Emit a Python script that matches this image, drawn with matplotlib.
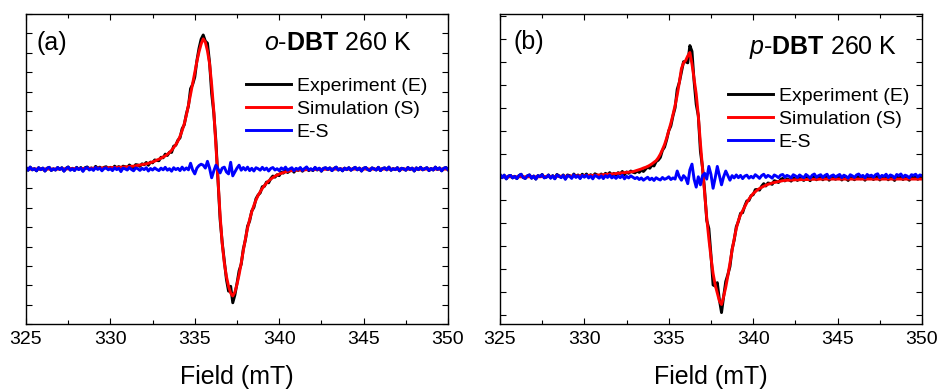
import numpy as np
import matplotlib
matplotlib.use("Agg")
from matplotlib import pyplot as plt
from matplotlib.ticker import MultipleLocator

plt.rcParams['font.family'] = ['Liberation Sans', 'DejaVu Sans']
plt.rcParams['mathtext.fontset'] = 'custom'
plt.rcParams['mathtext.rm'] = 'Liberation Sans'
plt.rcParams['mathtext.it'] = 'Liberation Sans:italic'
plt.rcParams['mathtext.bf'] = 'Liberation Sans:bold'

# field axis, 0.125 mT steps from 325 to 350 mT
field_start, field_step, n_pts = 325.0, 0.125, 201

# simulated derivative spectra (arb. units), one row per mT
sim_a = [
    0.00, 0.00, 0.00, 0.00, 0.00, 0.00, 0.00, 0.00,
    0.00, 0.00, 0.00, 0.00, 0.00, 0.00, 0.00, 0.00,
    0.01, 0.01, 0.01, 0.01, 0.01, 0.02, 0.02, 0.02,
    0.02, 0.02, 0.03, 0.03, 0.03, 0.03, 0.04, 0.04,
    0.04, 0.05, 0.05, 0.05, 0.06, 0.06, 0.06, 0.07,
    0.07, 0.08, 0.08, 0.09, 0.09, 0.10, 0.10, 0.11,
    0.12, 0.13, 0.14, 0.15, 0.17, 0.19, 0.21, 0.23,
    0.25, 0.27, 0.30, 0.33, 0.37, 0.41, 0.46, 0.51,
    0.56, 0.62, 0.68, 0.76, 0.85, 0.97, 1.11, 1.26,
    1.45, 1.69, 1.98, 2.33, 2.78, 3.30, 3.85, 4.42,
    5.00, 5.55, 6.05, 6.45, 6.72, 6.55, 6.10, 5.45,
    4.35, 3.00, 1.25, -0.55, -2.40, -3.85, -4.85, -5.55,
    -6.05, -6.40, -6.55, -6.35, -5.95, -5.45, -4.85, -4.20,
    -3.60, -3.05, -2.60, -2.20, -1.88, -1.60, -1.36, -1.17,
    -1.00, -0.85, -0.72, -0.61, -0.52, -0.44, -0.37, -0.31,
    -0.26, -0.22, -0.18, -0.15, -0.12, -0.10, -0.08, -0.07,
    -0.06, -0.05, -0.05, -0.04, -0.04, -0.03, -0.03, -0.03,
    -0.02, -0.02, -0.02, -0.02, -0.01, -0.01, -0.01, -0.01,
    0.00, 0.00, 0.00, 0.00, 0.00, 0.00, 0.00, 0.00,
    0.00, 0.00, 0.00, 0.00, 0.00, 0.00, 0.00, 0.00,
    0.00, 0.00, 0.00, 0.00, 0.00, 0.00, 0.00, 0.00,
    0.00, 0.00, 0.00, 0.00, 0.00, 0.00, 0.00, 0.00,
    0.00, 0.00, 0.00, 0.00, 0.00, 0.00, 0.00, 0.00,
    0.00, 0.00, 0.00, 0.00, 0.00, 0.00, 0.00, 0.00,
    0.00, 0.00, 0.00, 0.00, 0.00, 0.00, 0.00, 0.00,
    0.00,
]

# residual E-S
res_a = [
    0.08, -0.06, 0.10, -0.04, 0.02, -0.09, 0.07, -0.03,
    0.05, -0.10, 0.04, 0.09, -0.07, 0.01, -0.05, 0.08,
    -0.02, 0.06, -0.11, 0.03, 0.10, -0.06, 0.02, -0.08,
    0.07, -0.03, 0.05, -0.12, 0.04, 0.08, -0.05, 0.02,
    -0.07, 0.09, -0.02, 0.05, -0.09, 0.03, 0.06, -0.04,
    0.02, -0.08, 0.07, -0.03, 0.04, -0.13, 0.05, 0.01,
    -0.05, 0.08, -0.02, -0.09, 0.06, 0.02, -0.07, 0.04,
    -0.03, 0.07, -0.10, 0.03, -0.05, 0.06, -0.02, -0.08,
    0.05, -0.04, 0.09, -0.06, 0.02, -0.11, 0.07, -0.03,
    0.04, -0.08, 0.10, -0.05, 0.06, -0.04, 0.30, -0.05,
    -0.25, 0.05, 0.18, 0.25, 0.20, 0.05, 0.40, 0.05,
    -0.45, -0.10, 0.20, 0.02, -0.20, 0.05, 0.10, -0.15,
    -0.25, 0.35, -0.35, -0.15, 0.05, 0.20, -0.06, 0.08,
    -0.05, 0.10, -0.08, 0.04, -0.10, 0.07, 0.02, -0.06,
    0.09, -0.04, 0.05, -0.10, 0.03, 0.08, -0.05, 0.02,
    -0.08, 0.06, -0.03, 0.10, -0.06, 0.01, 0.07, -0.09,
    0.04, -0.02, 0.08, -0.07, 0.03, 0.11, -0.05, 0.02,
    -0.06, 0.09, -0.03, 0.05, -0.10, 0.04, 0.07, -0.02,
    0.06, -0.08, 0.03, 0.10, -0.05, 0.02, -0.09, 0.05,
    -0.03, 0.07, -0.06, 0.02, 0.09, -0.04, 0.05, -0.10,
    0.04, 0.08, -0.03, -0.07, 0.06, 0.01, -0.05, 0.09,
    -0.08, 0.03, 0.06, -0.04, 0.10, -0.06, 0.02, -0.03,
    0.07, -0.09, 0.04, 0.01, -0.06, 0.08, -0.02, 0.05,
    -0.10, 0.06, -0.03, 0.09, -0.04, 0.02, 0.07, -0.08,
    0.03, -0.05, 0.10, -0.02, 0.06, -0.09, 0.04, 0.08,
    -0.03,
]

sim_b = [
    0.00, 0.00, 0.00, 0.00, 0.00, 0.00, 0.00, 0.00,
    0.00, 0.00, 0.00, 0.00, 0.00, 0.00, 0.00, 0.00,
    0.00, 0.00, 0.00, 0.00, 0.01, 0.01, 0.01, 0.01,
    0.01, 0.01, 0.01, 0.02, 0.02, 0.02, 0.02, 0.02,
    0.03, 0.03, 0.03, 0.03, 0.04, 0.04, 0.04, 0.05,
    0.05, 0.05, 0.06, 0.06, 0.06, 0.07, 0.07, 0.08,
    0.08, 0.09, 0.10, 0.11, 0.11, 0.12, 0.13, 0.14,
    0.15, 0.16, 0.17, 0.18, 0.19, 0.20, 0.21, 0.22,
    0.25, 0.28, 0.31, 0.34, 0.38, 0.41, 0.45, 0.50,
    0.56, 0.63, 0.70, 0.82, 0.98, 1.18, 1.40, 1.68,
    2.00, 2.33, 2.70, 3.10, 3.55, 4.10, 4.70, 4.95,
    5.05, 5.25, 5.40, 4.90, 4.25, 3.60, 2.65, 1.45,
    0.35, -0.75, -1.80, -2.70, -3.50, -4.20, -4.70, -5.05,
    -5.40, -5.55, -5.20, -4.80, -4.30, -3.75, -3.20, -2.70,
    -2.25, -1.90, -1.65, -1.48, -1.30, -1.12, -0.97, -0.84,
    -0.73, -0.65, -0.57, -0.51, -0.46, -0.41, -0.37, -0.33,
    -0.30, -0.27, -0.25, -0.23, -0.21, -0.19, -0.17, -0.16,
    -0.15, -0.15, -0.14, -0.14, -0.13, -0.13, -0.13, -0.12,
    -0.12, -0.12, -0.12, -0.11, -0.11, -0.11, -0.11, -0.11,
    -0.10, -0.10, -0.10, -0.10, -0.10, -0.10, -0.10, -0.10,
    -0.10, -0.10, -0.10, -0.10, -0.10, -0.10, -0.10, -0.10,
    -0.10, -0.10, -0.10, -0.10, -0.10, -0.10, -0.10, -0.10,
    -0.10, -0.10, -0.10, -0.10, -0.10, -0.10, -0.10, -0.10,
    -0.10, -0.10, -0.10, -0.10, -0.10, -0.10, -0.10, -0.10,
    -0.10, -0.10, -0.10, -0.10, -0.10, -0.10, -0.10, -0.10,
    -0.10,
]

res_b = [
    0.10, -0.04, 0.07, -0.09, 0.03, 0.06, -0.05, 0.02,
    -0.08, 0.05, 0.11, -0.03, -0.07, 0.04, 0.08, -0.06,
    0.03, -0.10, 0.05, 0.01, 0.09, -0.05, -0.02, 0.07,
    -0.06, 0.04, -0.09, 0.08, 0.02, -0.04, 0.06, -0.11,
    0.05, 0.02, -0.07, 0.09, -0.03, 0.04, -0.08, 0.06,
    -0.02, 0.07, -0.05, 0.03, -0.09, 0.06, 0.01, -0.06,
    0.04, -0.08, 0.05, -0.03, 0.07, -0.05, 0.02, -0.07,
    0.03, -0.04, 0.06, -0.09, 0.02, -0.05, 0.04, -0.02,
    -0.08, -0.03, -0.12, -0.05, -0.15, -0.08, -0.02, -0.13,
    -0.06, -0.16, -0.04, -0.10, -0.14, -0.03, -0.11, -0.07,
    0.00, -0.12, -0.05, -0.10, 0.25, 0.00, -0.15, 0.05,
    -0.05, -0.30, 0.30, 0.55, -0.10, -0.45, 0.00, -0.35,
    0.05, 0.15, -0.10, 0.45, 0.10, -0.50, -0.05, 0.45,
    0.05, -0.35, 0.00, 0.25, 0.05, -0.15, 0.05, -0.05,
    0.08, -0.04, 0.06, -0.08, 0.03, 0.07, -0.06, 0.02,
    -0.05, 0.09, 0.02, -0.07, 0.05, 0.11, -0.03, 0.06,
    0.01, -0.06, 0.08, 0.03, -0.04, 0.07, 0.10, -0.02,
    0.06, 0.02, -0.05, 0.09, 0.04, -0.03, 0.08, 0.01,
    -0.04, 0.10, 0.03, -0.06, 0.07, 0.12, -0.02, 0.05,
    0.09, -0.03, 0.06, 0.11, -0.05, 0.04, 0.08, -0.01,
    0.05, 0.10, -0.04, 0.07, 0.02, -0.06, 0.09, 0.04,
    -0.03, 0.08, 0.12, 0.01, 0.06, -0.05, 0.10, 0.03,
    0.07, -0.02, 0.09, 0.13, -0.04, 0.06, 0.02, 0.11,
    -0.03, 0.08, 0.04, -0.06, 0.10, 0.05, 0.12, -0.02,
    0.07, 0.03, -0.05, 0.09, 0.06, 0.11, -0.01, 0.08,
    0.05,
]

panels = [
    dict(tag='(a)', title=r'$\mathit{o}$-$\mathbf{DBT}$ 260 K', sim=sim_a, res=res_a,
         ylim=(-8.0, 8.0), rect=[0.0276, 0.169, 0.4485, 0.795],
         tag_xy=(0.024, 0.905), title_xy=(0.563, 0.905), leg_xy=(0.522, 0.796)),
    dict(tag='(b)', title=r'$\mathit{p}$-$\mathbf{DBT}$ 260 K', sim=sim_b, res=res_b,
         ylim=(-6.4, 7.07), rect=[0.5313, 0.169, 0.4485, 0.795],
         tag_xy=(0.031, 0.91), title_xy=(0.589, 0.893), leg_xy=(0.541, 0.764)),
]

field = field_start + field_step * np.arange(n_pts)

fig = plt.figure(figsize=(9.41, 3.9), dpi=100)

for p in panels:
    ax = fig.add_axes(p['rect'])
    sim = np.array(p['sim'])
    res = np.array(p['res'])
    exp = sim + res

    ax.plot(field, exp, color='black', lw=2.1, label='Experiment (E)')
    ax.plot(field, sim, color='red', lw=2.1, label='Simulation (S)')
    ax.plot(field, res, color='blue', lw=2.1, label='E-S')

    ax.set_xlim(325, 350)
    ax.set_ylim(*p['ylim'])
    ax.xaxis.set_major_locator(MultipleLocator(5))
    ax.xaxis.set_minor_locator(MultipleLocator(2.5))
    ax.yaxis.set_major_locator(MultipleLocator(1))
    ax.tick_params(which='both', direction='in', top=True, right=True, width=0.8)
    ax.tick_params(which='major', length=4, labelsize=14, pad=5)
    ax.tick_params(which='minor', length=3)
    ax.tick_params(axis='y', labelleft=False)
    for s in ax.spines.values():
        s.set_linewidth(1.0)

    ax.set_xlabel('Field (mT)', fontsize=18, labelpad=12)

    ax.text(p['tag_xy'][0], p['tag_xy'][1], p['tag'], transform=ax.transAxes,
            fontsize=18, va='center', ha='left')
    ax.text(p['title_xy'][0], p['title_xy'][1], p['title'], transform=ax.transAxes,
            fontsize=18, va='center', ha='left')

    ax.legend(loc='upper left', bbox_to_anchor=p['leg_xy'], frameon=False,
              fontsize=14, handlelength=2.3, handletextpad=0.3,
              labelspacing=0.28, borderpad=0, borderaxespad=0)

fig.savefig('out.png', dpi=100)
